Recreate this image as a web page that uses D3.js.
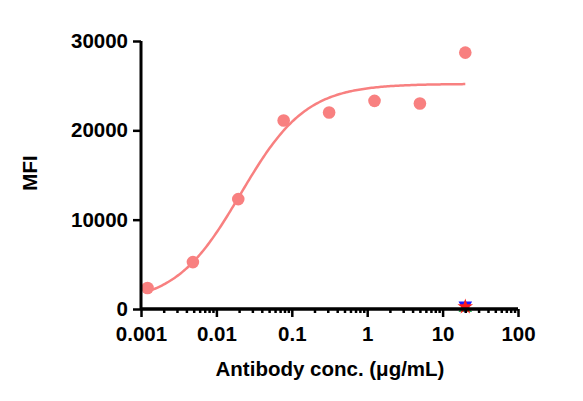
<!DOCTYPE html>
<html>
<head>
<meta charset="utf-8">
<script src="https://cdn.jsdelivr.net/npm/d3@7"></script>
<style>
  body { margin: 0; background: #fff; }
  svg { font-family: "Liberation Sans", Arial, sans-serif; font-weight: bold; }
</style>
</head>
<body>
<svg width="583" height="401"></svg>
<script>
// antibody series (4-fold dilutions)
const conc = [0.00122, 0.00488, 0.0195, 0.078, 0.3125, 1.25, 5, 20];
const mfi = [2350, 5250, 12300, 21100, 22000, 23300, 23000, 28700];

// controls at top concentration only
const ctrlConc = [20];
const ctrlBlue = [400];
const ctrlRed = [250];
const ctrlGreen = [100];

// 4PL fit parameters
const fitBottom = 600, fitTop = 25200, fitEC50 = 0.021, fitHill = 1.0;

const xTicks = [0.001, 0.01, 0.1, 1, 10, 100];
const yTicks = [0, 10000, 20000, 30000];

const svg = d3.select("svg");
const x = d3.scaleLog().domain([0.001, 100]).range([141, 518]);
const y = d3.scaleLinear().domain([0, 30000]).range([309, 41]);

function fourPL(c) {
  return fitBottom + (fitTop - fitBottom) / (1 + Math.pow(fitEC50 / c, fitHill));
}

// fitted curve
const curveX = d3.range(0, 201).map(i => Math.pow(10, Math.log10(0.00122) + i * (Math.log10(20) - Math.log10(0.00122)) / 200));
svg.append("path")
  .datum(curveX)
  .attr("fill", "none")
  .attr("stroke", "#f88080")
  .attr("stroke-width", 2.5)
  .attr("d", d3.line().x(d => x(d)).y(d => y(fourPL(d))));

// data points
svg.append("g")
  .selectAll("circle")
  .data(conc.map((c, i) => [c, mfi[i]]))
  .join("circle")
  .attr("cx", d => x(d[0]))
  .attr("cy", d => y(d[1]))
  .attr("r", 6.3)
  .attr("fill", "#f88080");

// controls: green up-triangle, blue down-triangle, red star
const sym = d3.symbol();
svg.append("g").selectAll("path")
  .data(ctrlConc.map((c, i) => [c, ctrlGreen[i]]))
  .join("path")
  .attr("transform", d => `translate(${x(d[0])},${y(d[1])})`)
  .attr("d", sym.type(d3.symbolTriangle).size(80)())
  .attr("fill", "#2eae5c");
svg.append("g").selectAll("path")
  .data(ctrlConc.map((c, i) => [c, ctrlBlue[i]]))
  .join("path")
  .attr("transform", d => `translate(${x(d[0])},${y(d[1])}) rotate(180)`)
  .attr("d", sym.type(d3.symbolTriangle).size(80)())
  .attr("fill", "#1a1aff");
svg.append("g").selectAll("path")
  .data(ctrlConc.map((c, i) => [c, ctrlRed[i]]))
  .join("path")
  .attr("transform", d => `translate(${x(d[0])},${y(d[1])})`)
  .attr("d", sym.type(d3.symbolStar).size(75)())
  .attr("fill", "#ff1a1a");

// x axis with minor ticks
const minor = [];
for (let e = -3; e < 2; e++) for (let m = 2; m < 10; m++) minor.push(m * Math.pow(10, e));
const xg = svg.append("g").attr("transform", "translate(0,309)");
xg.call(d3.axisBottom(x).tickValues(minor).tickSize(4).tickFormat(""));
xg.append("g").call(d3.axisBottom(x).tickValues(xTicks).tickSize(8).tickPadding(9)
  .tickFormat(d => d3.format("")(d)));
xg.selectAll("path.domain").attr("stroke-width", 3).attr("d", "M141,0H518");
xg.selectAll("line").attr("stroke", "#000").attr("stroke-width", 2.5);
xg.selectAll("text").attr("font-size", 20.5).attr("font-weight", "bold").attr("fill", "#000")
  .attr("font-family", "Liberation Sans, Arial, sans-serif");

// y axis
const yg = svg.append("g").attr("transform", "translate(141,0)");
yg.call(d3.axisLeft(y).tickValues(yTicks).tickSize(8).tickPadding(5).tickFormat(d3.format("d")));
yg.select("path.domain").attr("stroke-width", 3).attr("d", "M0,309V41");
yg.selectAll("line").attr("stroke", "#000").attr("stroke-width", 2.5);
yg.selectAll("text").attr("font-size", 20.5).attr("font-weight", "bold").attr("fill", "#000")
  .attr("font-family", "Liberation Sans, Arial, sans-serif");

// axis titles
svg.append("text")
  .attr("x", 330).attr("y", 376)
  .attr("text-anchor", "middle")
  .attr("font-size", 20.5)
  .text("Antibody conc. (μg/mL)");
svg.append("text")
  .attr("transform", "translate(37,173) rotate(-90)")
  .attr("text-anchor", "middle")
  .attr("font-size", 20.5)
  .text("MFI");
</script>
</body>
</html>
